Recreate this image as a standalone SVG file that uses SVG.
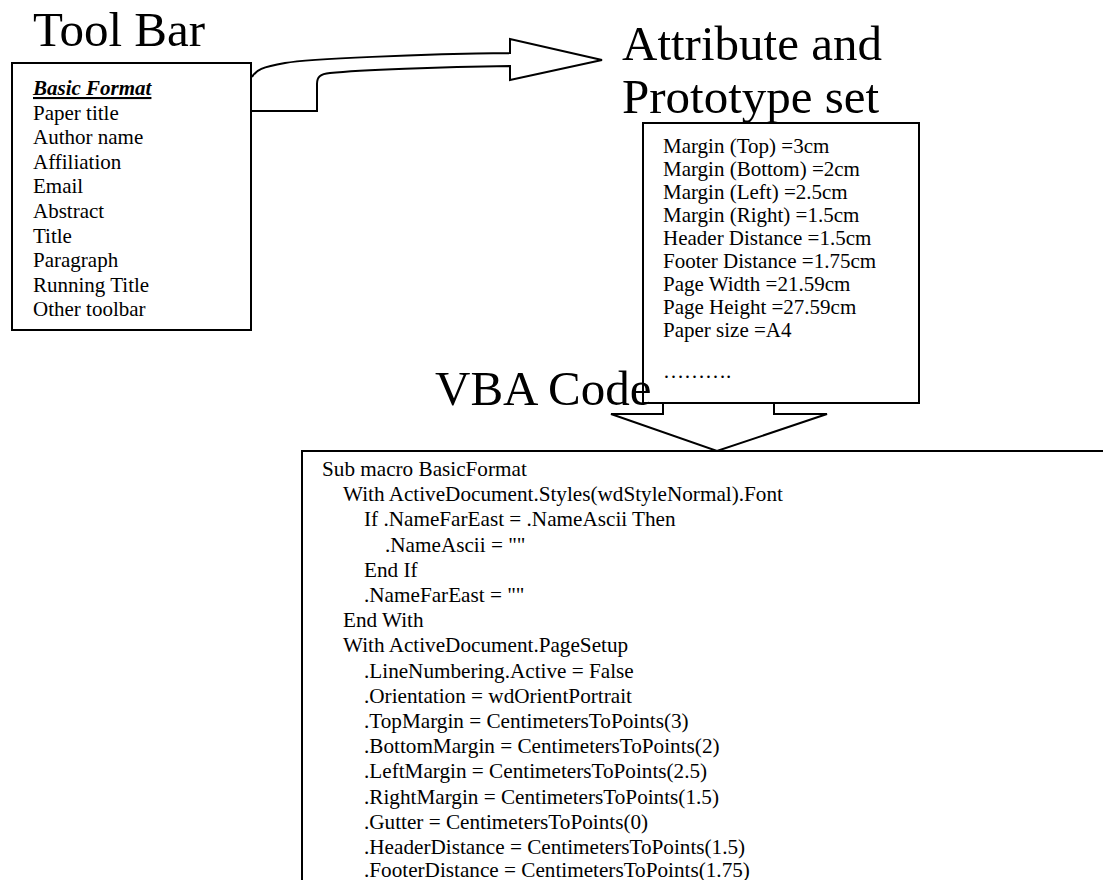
<svg xmlns="http://www.w3.org/2000/svg" width="1103" height="880" viewBox="0 0 1103 880">
<style>
.box{fill:#fff;stroke:#000;stroke-width:2}
.arr{fill:#fff;stroke:#000;stroke-width:2;stroke-linejoin:miter}
.title{font-family:"Liberation Serif","Times New Roman",serif;font-size:49px;fill:#000}
.t{font-family:"Liberation Serif","Times New Roman",serif;font-size:21px;fill:#000}
.c{font-family:"Liberation Serif","Times New Roman",serif;font-size:21.2px;fill:#000}
.bi{font-weight:bold;font-style:italic;text-decoration:underline}
</style>
<rect width="1103" height="880" fill="#fff"/>
<g id="connectors">
<path class="arr" d="M252,77 C256,70 262,67 285,63 S420,54 510,53 L510,39 L602,60 L510,80 L510,66 C440,67 360,70 330,73 C320,74 317,77 317,84 L317,111 L252,111"/>
<path class="arr" d="M663,403 L663,414 L611,414 L717,451 L827,414 L774,414 L774,403"/>
</g>
<g id="toolbar">
<text class="title" x="33" y="46">Tool Bar</text>
<rect class="box" x="12" y="63" width="239" height="267"/>
<text class="t bi" x="33" y="95">Basic Format</text>
<text class="t" x="33" y="119.6">Paper title</text>
<text class="t" x="33" y="144.2">Author name</text>
<text class="t" x="33" y="168.8">Affiliation</text>
<text class="t" x="33" y="193.4">Email</text>
<text class="t" x="33" y="218">Abstract</text>
<text class="t" x="33" y="242.6">Title</text>
<text class="t" x="33" y="267.2">Paragraph</text>
<text class="t" x="33" y="291.8">Running Title</text>
<text class="t" x="33" y="316.4">Other toolbar</text>
</g>
<g id="attribute">
<text class="title" x="622" y="60">Attribute and</text>
<text class="title" x="622" y="113">Prototype set</text>
<rect class="box" x="643" y="123" width="276" height="280"/>
<text class="t" x="663" y="153">Margin (Top) =3cm</text>
<text class="t" x="663" y="176">Margin (Bottom) =2cm</text>
<text class="t" x="663" y="199">Margin (Left) =2.5cm</text>
<text class="t" x="663" y="222">Margin (Right) =1.5cm</text>
<text class="t" x="663" y="245">Header Distance =1.5cm</text>
<text class="t" x="663" y="268">Footer Distance =1.75cm</text>
<text class="t" x="663" y="291">Page Width =21.59cm</text>
<text class="t" x="663" y="314">Page Height =27.59cm</text>
<text class="t" x="663" y="337">Paper size =A4</text>
<text class="t" x="663" y="378">……….</text>
</g>
<g id="vba">
<text class="title" x="435" y="405">VBA Code</text>
<rect class="box" x="302" y="451" width="900" height="500"/>
<text class="c" x="322" y="476">Sub macro BasicFormat</text>
<text class="c" x="343" y="501.2">With ActiveDocument.Styles(wdStyleNormal).Font</text>
<text class="c" x="364" y="526.4">If .NameFarEast = .NameAscii Then</text>
<text class="c" x="385" y="551.6">.NameAscii = ""</text>
<text class="c" x="364" y="576.8">End If</text>
<text class="c" x="364" y="602">.NameFarEast = ""</text>
<text class="c" x="343" y="627.2">End With</text>
<text class="c" x="343" y="652.4">With ActiveDocument.PageSetup</text>
<text class="c" x="364" y="677.6">.LineNumbering.Active = False</text>
<text class="c" x="364" y="702.8">.Orientation = wdOrientPortrait</text>
<text class="c" x="364" y="728">.TopMargin = CentimetersToPoints(3)</text>
<text class="c" x="364" y="753.2">.BottomMargin = CentimetersToPoints(2)</text>
<text class="c" x="364" y="778.4">.LeftMargin = CentimetersToPoints(2.5)</text>
<text class="c" x="364" y="803.6">.RightMargin = CentimetersToPoints(1.5)</text>
<text class="c" x="364" y="828.8">.Gutter = CentimetersToPoints(0)</text>
<text class="c" x="364" y="854">.HeaderDistance = CentimetersToPoints(1.5)</text>
<text class="c" x="364" y="877">.FooterDistance = CentimetersToPoints(1.75)</text>
</g>
</svg>
